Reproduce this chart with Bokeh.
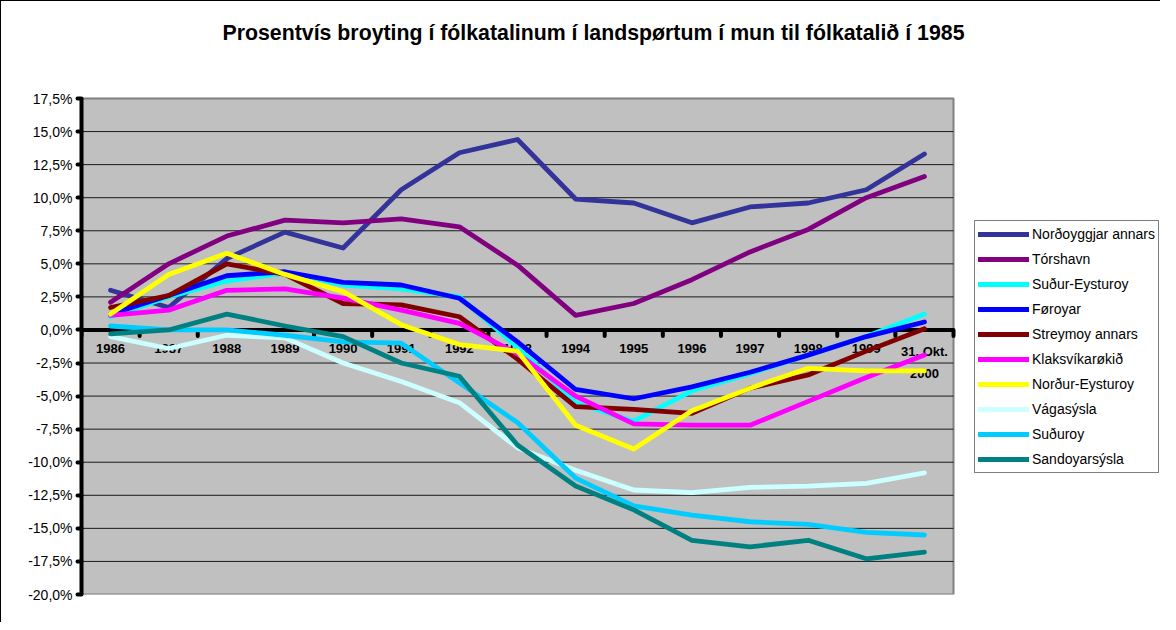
from bokeh.plotting import figure
from bokeh.models import Range1d, FixedTicker, Legend, LegendItem, Label, ColumnDataSource
from bokeh.core.properties import value
from bokeh.embed import file_html
from bokeh.resources import INLINE

title_text = "Prosentvís broyting í fólkatalinum í landspørtum í mun til fólkatalið í 1985"

years = ["1986", "1987", "1988", "1989", "1990", "1991", "1992", "1993", "1994",
         "1995", "1996", "1997", "1998", "1999", "31. Okt.\n2000"]

nordoyggjar = [3.0, 1.7, 5.4, 7.4, 6.2, 10.6, 13.4, 14.4, 9.9, 9.6, 8.1, 9.3, 9.6, 10.6, 13.3]
torshavn = [2.1, 5.0, 7.1, 8.3, 8.1, 8.4, 7.8, 4.9, 1.1, 2.0, 3.8, 5.9, 7.6, 10.0, 11.6]
sudur_eysturoy = [1.0, 2.5, 3.7, 4.3, 3.4, 3.1, 2.5, -1.3, -5.5, -6.9, -4.6, -3.3, -1.9, -0.5, 1.2]
foroyar = [1.2, 2.6, 4.1, 4.4, 3.6, 3.4, 2.4, -0.9, -4.5, -5.2, -4.3, -3.2, -1.9, -0.5, 0.6]
streymoy = [1.7, 2.6, 5.0, 4.2, 2.0, 1.9, 1.0, -2.2, -5.8, -6.0, -6.3, -4.4, -3.4, -1.6, 0.1]
klaksvik = [1.1, 1.5, 3.0, 3.1, 2.4, 1.5, 0.5, -1.8, -5.0, -7.1, -7.2, -7.2, -5.4, -3.6, -1.9]
nordur_eysturoy = [1.2, 4.2, 5.8, 4.2, 2.9, 0.4, -1.1, -1.6, -7.2, -9.0, -6.1, -4.4, -2.9, -3.1, -3.1]
vagasysla = [-0.5, -1.4, -0.4, -0.6, -2.5, -3.9, -5.5, -8.9, -10.6, -12.1, -12.3, -11.9, -11.8, -11.6, -10.8]
suduroy = [0.3, 0.0, 0.0, -0.4, -0.9, -1.0, -4.0, -7.0, -11.2, -13.3, -14.0, -14.5, -14.7, -15.3, -15.5]
sandoy = [-0.3, 0.0, 1.2, 0.3, -0.5, -2.5, -3.5, -8.7, -11.8, -13.6, -15.9, -16.4, -15.9, -17.3, -16.8]

series_names = ["Norðoyggjar annars", "Tórshavn", "Suður-Eysturoy", "Føroyar", "Streymoy annars",
                "Klaksvíkarøkið", "Norður-Eysturoy", "Vágasýsla", "Suðuroy", "Sandoyarsýsla"]
series_values = [nordoyggjar, torshavn, sudur_eysturoy, foroyar, streymoy,
                 klaksvik, nordur_eysturoy, vagasysla, suduroy, sandoy]
series_colors = ["#333399", "#800080", "#00FFFF", "#0000FF", "#800000",
                 "#FF00FF", "#FFFF00", "#CCFFFF", "#00CCFF", "#008080"]

y_ticks = [-20.0, -17.5, -15.0, -12.5, -10.0, -7.5, -5.0, -2.5, 0.0, 2.5, 5.0, 7.5, 10.0, 12.5, 15.0, 17.5]
y_tick_labels = ["-20,0%", "-17,5%", "-15,0%", "-12,5%", "-10,0%", "-7,5%", "-5,0%", "-2,5%",
                 "0,0%", "2,5%", "5,0%", "7,5%", "10,0%", "12,5%", "15,0%", "17,5%"]

FONT = "Liberation Sans"

# ---- layout plan (pixels) ----
W, H = 1160, 622
BORDER_L, BORDER_B = 80, 29
AREA_W, AREA_H = 872, 496          # grey plot-area size in px
AREA_TOP_GAP = 97                  # px from figure top to grey area top
frame_w = W - BORDER_L
frame_h = H - BORDER_B

n = len(years)
xs = [i + 0.5 for i in range(n)]
y_lo, y_hi = y_ticks[0], y_ticks[-1]
x_end = n * frame_w / AREA_W
y_end = y_hi + (y_hi - y_lo) * AREA_TOP_GAP / AREA_H

p = figure(width=W, height=H, output_backend="svg", toolbar_location=None,
           x_range=Range1d(0, x_end), y_range=Range1d(y_lo, y_end),
           x_axis_location=None, min_border_left=BORDER_L, min_border_right=0,
           min_border_top=0, min_border_bottom=BORDER_B)
p.background_fill_color = "white"
p.border_fill_color = "white"
p.outline_line_color = None
p.styles = {"border-left": "1px solid black", "border-top": "1px solid black"}
p.xgrid.visible = False
p.ygrid.visible = False

# grey plot area
p.quad(left=[0], right=[n], bottom=[y_lo], top=[y_hi], fill_color="#C0C0C0",
       line_color="#808080", line_width=2)

# horizontal gridlines
inner = y_ticks[1:-1]
p.segment(x0=[0] * len(inner), y0=inner, x1=[n] * len(inner), y1=inner,
          line_color="#1a1a1a", line_width=1)

ax = p.yaxis[0]
ax.ticker = FixedTicker(ticks=y_ticks)
ax.bounds = (y_lo, y_hi)
ax.major_label_overrides = {t: l for t, l in zip(y_ticks, y_tick_labels)}
ax.axis_line_width = 4
ax.axis_line_color = "black"
ax.major_tick_line_width = 4
ax.major_tick_line_cap = "round"
ax.major_tick_out = 4
ax.major_tick_in = 0
ax.minor_tick_line_color = None
ax.major_label_text_font = FONT
ax.major_label_text_font_size = "14px"
ax.major_label_text_color = "black"
ax.major_label_standoff = 5

# zero line acting as category axis
p.segment(x0=[0], y0=[0], x1=[n], y1=[0], line_color="black", line_width=4)
bounds = list(range(n + 1))
p.segment(x0=bounds, y0=[0] * len(bounds), x1=bounds, y1=[-0.45] * len(bounds),
          line_color="black", line_width=4, line_cap="round")

p.text(x=xs, y=[0] * n, text=years, text_align="center", text_baseline="top",
       y_offset=14, text_font=value(FONT), text_font_style="bold",
       text_font_size="13px", text_color="black", text_line_height=1.5)

items = []
for name, vals, col in zip(series_names, series_values, series_colors):
    src = ColumnDataSource(dict(x=xs, y=vals))
    r = p.line("x", "y", source=src, line_color=col, line_width=4.8, line_join="round",
               line_cap="round")
    items.append(LegendItem(label=name, renderers=[r]))

legend = Legend(items=items, location=(893, 121))
legend.label_text_font = FONT
legend.label_text_font_size = "14px"
legend.label_text_color = "black"
legend.border_line_color = "black"
legend.border_line_width = 1
legend.background_fill_color = "white"
legend.background_fill_alpha = 1
legend.glyph_width = 51
legend.glyph_height = 20
legend.label_height = 20
legend.spacing = 5
legend.padding = 3
legend.margin = 0
legend.label_standoff = 3
p.add_layout(legend, "center")

title = Label(x=512, y=frame_h - 31, x_units="screen", y_units="screen", text=title_text,
              text_align="center", text_baseline="middle", text_font=FONT,
              text_font_style="bold", text_font_size="21.3px", text_color="black")
p.add_layout(title)

open("out.html", "w").write(file_html(p, INLINE))
